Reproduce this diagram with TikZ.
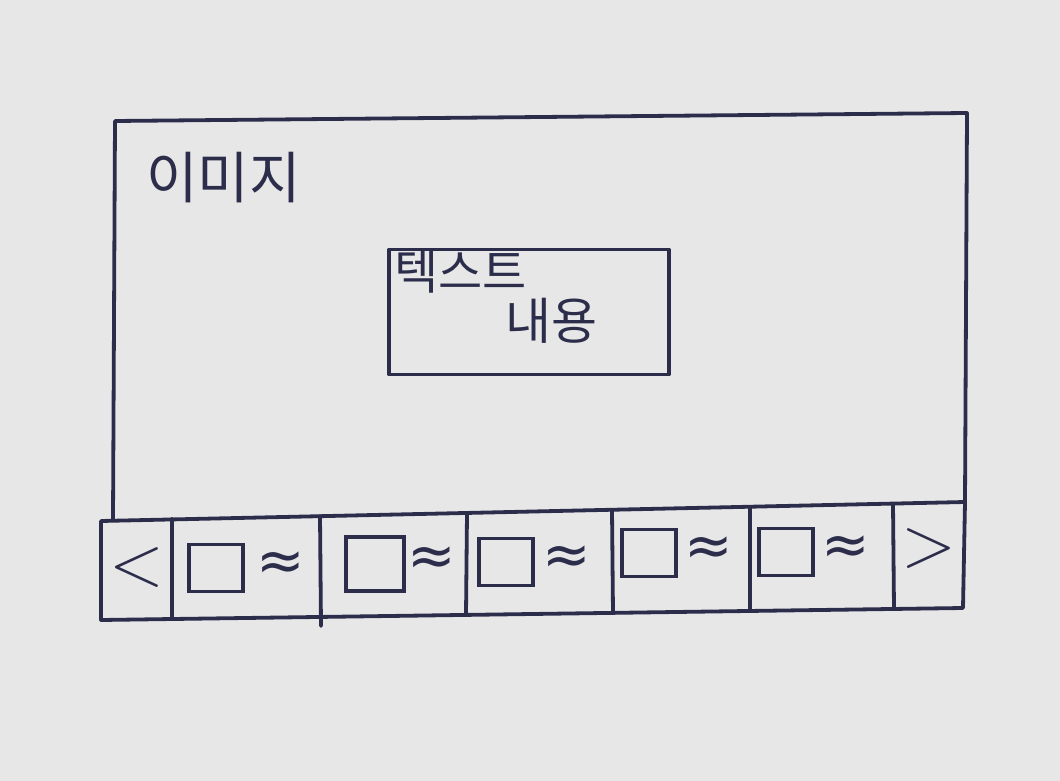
\documentclass[tikz,border=0pt]{standalone}
\usepackage{fontspec}
\newfontfamily\krfont{Noto Sans CJK KR}
\newfontfamily\symfont{DejaVu Sans}
\definecolor{ink}{HTML}{2B2D4A}
\definecolor{paper}{HTML}{E7E7E8}
\begin{document}
\begin{tikzpicture}[x=1pt,y=-1pt,
  pen/.style={draw=ink, line width=3.8pt, line cap=round, line join=round},
  thumb/.style={draw=ink, line width=3.8pt, minimum width=54pt, minimum height=47pt, inner sep=0pt},
  wave/.style={text=ink, font=\symfont\fontsize{58}{58}\selectfont, inner sep=0pt},
  chev/.style={text=ink, font=\fontsize{72}{72}\selectfont, inner sep=0pt},
  hand/.style={text=ink, inner sep=0pt, anchor=north west}]
\fill[paper] (0,0) rectangle (1060,781);
\useasboundingbox (0,0) rectangle (1060,781);
% outer frame
\draw[pen] (113,520) -- (115,121) -- (967,113) -- (965,502);
% strip
\draw[pen] (101,521) -- (965,502) -- (963,608) -- (101,620) -- cycle;
\draw[pen] (172,519) -- (172,619);
\draw[pen] (320,516) -- (321,626);
\draw[pen] (467,513) -- (466,615);
\draw[pen] (612,510) -- (613,613);
\draw[pen] (750,507) -- (750,611);
\draw[pen] (893,504) -- (894,609);
% title
\node[hand, font=\krfont\fontsize{56}{56}\selectfont] (title) at (146,152) {이미지};
% text box
\node[pen, minimum width=280pt, minimum height=125pt, inner sep=0pt] (box) at (529,312) {};
\node[hand, font=\krfont\fontsize{48}{48}\selectfont] (t1) at (394,250) {텍스트};
\node[hand, font=\krfont\fontsize{50}{50}\selectfont] (t2) at (505,298) {내용};
% strip contents
\node[chev] (prev) at (137,568) {<};
\node[thumb] (s1) at (216,568) {};
\node[wave] (w1) at (281,566) {≈};
\node[thumb, minimum width=58pt, minimum height=54pt] (s2) at (375,564) {};
\node[wave] (w2) at (432,561) {≈};
\node[thumb] (s3) at (506,562) {};
\node[wave] (w3) at (567,560) {≈};
\node[thumb] (s4) at (649,553) {};
\node[wave] (w4) at (709,551) {≈};
\node[thumb] (s5) at (786,552) {};
\node[wave] (w5) at (846,550) {≈};
\node[chev] (next) at (929,549) {>};
\end{tikzpicture}
\end{document}
